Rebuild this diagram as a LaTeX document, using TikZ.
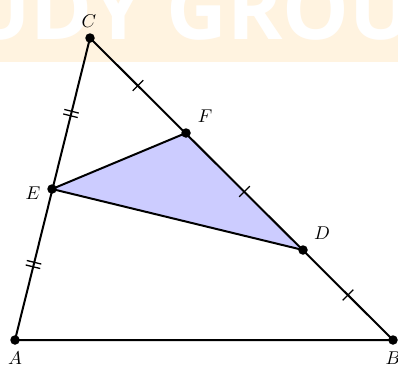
\documentclass[tikz,border=0pt]{standalone}
\usepackage{fontspec}
\newfontfamily\wmfont{Open Sans}
\usetikzlibrary{calc}
\definecolor{wmband}{RGB}{255,243,224}
\definecolor{trifill}{RGB}{204,204,255}
\newcommand{\ptlabel}[1]{\scalebox{1.85}{$#1$}}
\begin{document}
\begin{tikzpicture}[x=1pt,y=-1pt,
  edge/.style={line width=2pt,line join=round},
  tickmark/.style={line width=1.3pt},
  dot/.style={circle,fill=black,inner sep=0pt,minimum size=9.5pt},
  lbl/.style={inner sep=0pt}]
\useasboundingbox (0,0) rectangle (398,365);
% watermark band
\fill[wmband] (0,0) rectangle (398,62);
\begin{scope}
\clip (0,0) rectangle (398,62);
\node[anchor=base west,text=white,inner sep=0pt,
  font=\wmfont\bfseries\fontsize{84}{90}\selectfont] (wm) at (166,39) {\llap{STUDY }GROUP};
\end{scope}
% points
\coordinate (a) at (15,340);
\coordinate (b) at (393,340);
\coordinate (c) at (90,38);
\coordinate (e) at (52,189);
\coordinate (f) at (186,133);
\coordinate (d) at (303,250);
% shaded triangle
\fill[trifill] (e) -- (f) -- (d) -- cycle;
% sides
\draw[edge] (a) -- (b) -- (c) -- cycle;
\draw[edge] (e) -- (f);
\draw[edge] (e) -- (d);
% single ticks on CB
\coordinate (m1) at ($(c)!0.5!(f)$);
\coordinate (m2) at ($(f)!0.5!(d)$);
\coordinate (m3) at ($(d)!0.5!(b)$);
\foreach \m/\t in {m1/f,m2/d,m3/b}{
  \draw[tickmark] ($(\m)!7.5pt!90:(\t)$) -- ($(\m)!7.5pt!-90:(\t)$);
}
% double ticks on CE and EA
\coordinate (n1) at ($(c)!0.5!(e)$);
\coordinate (n2) at ($(e)!0.5!(a)$);
\foreach \m/\t in {n1/e,n2/a}{
  \coordinate (p) at ($(\m)!2.3pt!(\t)$);
  \coordinate (q) at ($(\m)!-2.3pt!(\t)$);
  \draw[tickmark] ($(p)!7.5pt!90:(\t)$) -- ($(p)!7.5pt!-90:(\t)$);
  \draw[tickmark] ($(q)!7.5pt!90:(\t)$) -- ($(q)!7.5pt!-90:(\t)$);
}
% dots
\node[dot] (A) at (a) {};
\node[dot] (B) at (b) {};
\node[dot] (C) at (c) {};
\node[dot] (E) at (e) {};
\node[dot] (F) at (f) {};
\node[dot] (D) at (d) {};
% labels
\node[lbl] (lC) at (89,21) {\ptlabel{C}};
\node[lbl] (lF) at (205,116) {\ptlabel{F}};
\node[lbl] (lD) at (322,233) {\ptlabel{D}};
\node[lbl] (lE) at (33,193) {\ptlabel{E}};
\node[lbl] (lA) at (15,358) {\ptlabel{A}};
\node[lbl] (lB) at (393,358) {\ptlabel{B}};
\end{tikzpicture}
\end{document}
